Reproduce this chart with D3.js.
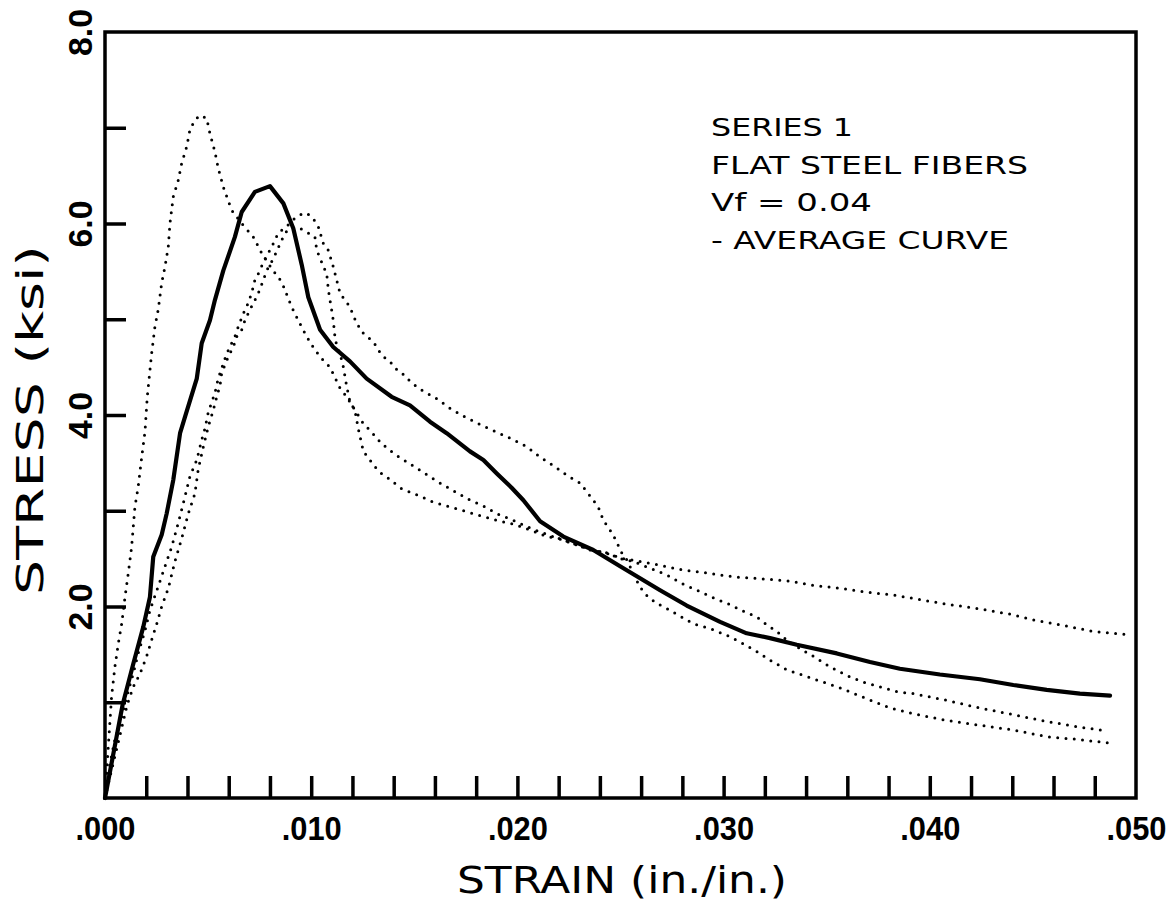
<!DOCTYPE html>
<html><head><meta charset="utf-8">
<script src="https://cdn.jsdelivr.net/npm/d3@7/dist/d3.min.js"></script>
<style>body{margin:0;background:#fff}svg{display:block}</style>
</head><body><svg id="chart" width="1175" height="905"></svg>
<script>
// ---------- data ----------
const xLabelValues = [0, 0.01, 0.02, 0.03, 0.04, 0.05];
const xTickLabels = [".000", ".010", ".020", ".030", ".040", ".050"];
const xMinorTicks = [0.002,0.004,0.006,0.008,0.010,0.012,0.014,0.016,0.018,0.020,0.022,0.024,0.026,0.028,0.030,0.032,0.034,0.036,0.038,0.040,0.042,0.044,0.046,0.048];
const yLabelValues = [2, 4, 6, 8];
const yTickLabels = ["2.0", "4.0", "6.0", "8.0"];
const yMinorTicks = [1, 2, 3, 4, 5, 6, 7];
const xTitle = "STRAIN (in./in.)";
const yTitle = "STRESS (ksi)";
const legendLines = ["SERIES 1", "FLAT STEEL FIBERS", "Vf = 0.04", "- AVERAGE CURVE"];

// average curve [strain, stress ksi]
const averageCurve = [[0,0],[0.00086,0.98],[0.00137,1.40],[0.00186,1.79],[0.00218,2.10],[0.00234,2.52],[0.00275,2.75],[0.00299,2.97],[0.00331,3.32],[0.00364,3.81],[0.00388,3.98],[0.00445,4.38],[0.00469,4.75],[0.00509,4.99],[0.00533,5.20],[0.00574,5.51],[0.0063,5.86],[0.00663,6.12],[0.00727,6.33],[0.008,6.39],[0.00865,6.21],[0.00913,5.95],[0.00954,5.57],[0.00986,5.23],[0.01043,4.89],[0.01107,4.71],[0.01188,4.56],[0.01269,4.38],[0.0139,4.19],[0.01479,4.10],[0.01576,3.93],[0.01657,3.81],[0.0177,3.62],[0.01835,3.53],[0.019,3.39],[0.01972,3.24],[0.02029,3.11],[0.0211,2.89],[0.02223,2.73],[0.02368,2.59],[0.02498,2.42],[0.02692,2.17],[0.02821,2.01],[0.02983,1.84],[0.03112,1.72],[0.03225,1.67],[0.03355,1.60],[0.03549,1.51],[0.0371,1.42],[0.03855,1.35],[0.04049,1.29],[0.04243,1.24],[0.04405,1.18],[0.04567,1.13],[0.04728,1.09],[0.04874,1.07]];

// specimen A (early peak)
const specimenA = [[0,0],[0.00016,0.54],[0.00032,1.06],[0.00048,1.37],[0.00065,1.62],[0.00081,1.82],[0.00097,2.10],[0.00113,2.35],[0.00129,2.62],[0.00145,3.04],[0.00161,3.25],[0.00178,3.56],[0.00194,3.83],[0.00205,4.19],[0.00226,4.64],[0.00242,4.92],[0.00258,5.10],[0.00275,5.38],[0.00291,5.55],[0.00307,5.76],[0.00315,6.00],[0.00331,6.28],[0.00355,6.45],[0.00372,6.63],[0.00396,6.80],[0.00412,6.98],[0.00436,7.08],[0.00461,7.13],[0.00493,7.10],[0.00509,6.94],[0.00533,6.75],[0.00549,6.58],[0.00574,6.38],[0.00614,6.14],[0.00663,6.00],[0.00719,5.86],[0.0076,5.69],[0.00808,5.53],[0.00857,5.39],[0.00905,5.13],[0.00937,4.99],[0.00978,4.82],[0.01018,4.68],[0.01059,4.57],[0.01091,4.50],[0.0114,4.28],[0.01172,4.19],[0.01253,3.91],[0.01285,3.84],[0.01342,3.70],[0.01406,3.59],[0.01471,3.50],[0.01544,3.40],[0.01616,3.30],[0.01689,3.21],[0.01762,3.12],[0.01835,3.05],[0.019,2.97],[0.0198,2.90],[0.02061,2.82],[0.02134,2.76],[0.02223,2.69],[0.0232,2.62],[0.02409,2.57],[0.02514,2.50],[0.02595,2.47],[0.02692,2.43],[0.02805,2.38],[0.02918,2.35],[0.03047,2.31],[0.03177,2.29],[0.03306,2.27],[0.03435,2.22],[0.03565,2.19],[0.03694,2.15],[0.03823,2.12],[0.03904,2.09],[0.04065,2.03],[0.04227,1.98],[0.04389,1.92],[0.04502,1.86],[0.04631,1.81],[0.04793,1.74],[0.04947,1.71]];

// specimen B (steep drop to lowest plateau)
const specimenB = [[0,0],[0.00034,0.31],[0.00073,0.66],[0.00107,0.97],[0.00137,1.16],[0.0017,1.30],[0.00202,1.48],[0.00226,1.65],[0.00251,1.82],[0.00275,2.00],[0.00307,2.19],[0.00339,2.47],[0.00372,2.71],[0.00404,2.97],[0.00436,3.18],[0.00452,3.43],[0.00477,3.67],[0.00501,3.88],[0.00525,4.05],[0.00542,4.19],[0.00558,4.31],[0.00566,4.44],[0.00598,4.61],[0.00622,4.71],[0.00639,4.82],[0.00663,4.89],[0.00679,4.99],[0.00703,5.10],[0.00727,5.20],[0.00743,5.27],[0.00768,5.41],[0.00784,5.51],[0.00808,5.60],[0.00833,5.71],[0.00849,5.79],[0.00873,5.90],[0.00897,5.95],[0.00946,5.95],[0.00978,5.91],[0.01018,5.86],[0.01027,5.72],[0.01043,5.64],[0.01059,5.55],[0.01075,5.48],[0.01083,5.31],[0.01091,5.20],[0.01099,5.10],[0.01107,4.99],[0.01115,4.82],[0.01123,4.73],[0.0114,4.64],[0.01156,4.50],[0.01172,4.30],[0.01188,4.14],[0.01212,4.05],[0.01228,3.86],[0.01253,3.62],[0.01285,3.53],[0.01309,3.46],[0.01334,3.40],[0.01374,3.34],[0.01439,3.23],[0.01519,3.16],[0.01592,3.09],[0.01673,3.04],[0.01754,2.99],[0.01835,2.94],[0.019,2.90],[0.0198,2.86],[0.02061,2.80],[0.02142,2.73],[0.02207,2.71],[0.02352,2.59],[0.02433,2.56],[0.02498,2.50],[0.02562,2.47],[0.02643,2.40],[0.02724,2.33],[0.02797,2.24],[0.0287,2.17],[0.0295,2.09],[0.03031,2.02],[0.03096,1.95],[0.03161,1.89],[0.03209,1.81],[0.03258,1.74],[0.03306,1.65],[0.0337,1.56],[0.03435,1.48],[0.03516,1.37],[0.03597,1.28],[0.03678,1.21],[0.03758,1.16],[0.0384,1.11],[0.0392,1.09],[0.04082,1.02],[0.04243,0.94],[0.04405,0.87],[0.04567,0.80],[0.04728,0.74],[0.04866,0.70]];

// specimen C (late hump)
const specimenC = [[0,0],[0.00024,0.36],[0.00048,0.61],[0.00073,0.78],[0.00105,1.06],[0.00137,1.30],[0.00161,1.51],[0.00194,1.75],[0.00218,1.96],[0.00258,2.21],[0.00291,2.42],[0.00323,2.62],[0.00355,2.87],[0.00388,3.15],[0.00412,3.36],[0.00445,3.53],[0.00469,3.74],[0.00485,3.86],[0.00501,4.03],[0.00533,4.23],[0.00549,4.38],[0.00574,4.54],[0.0059,4.64],[0.00614,4.75],[0.0063,4.82],[0.00646,4.92],[0.00671,5.06],[0.00687,5.13],[0.00711,5.27],[0.00727,5.41],[0.00752,5.51],[0.00768,5.60],[0.00792,5.69],[0.00816,5.79],[0.0084,5.90],[0.00857,5.93],[0.00881,5.97],[0.00913,6.04],[0.00946,6.09],[0.00978,6.11],[0.0101,6.05],[0.01034,5.97],[0.01059,5.79],[0.01083,5.72],[0.01107,5.55],[0.0114,5.27],[0.01164,5.20],[0.01188,5.13],[0.01204,5.04],[0.01221,4.96],[0.01245,4.87],[0.01269,4.82],[0.01301,4.77],[0.01325,4.68],[0.0135,4.61],[0.01382,4.56],[0.01406,4.49],[0.01439,4.44],[0.01471,4.37],[0.01503,4.31],[0.01536,4.26],[0.01576,4.21],[0.01609,4.17],[0.01641,4.12],[0.01673,4.07],[0.01713,4.02],[0.01746,3.98],[0.01819,3.90],[0.01891,3.83],[0.01972,3.75],[0.02045,3.67],[0.0211,3.56],[0.02182,3.46],[0.02247,3.36],[0.02304,3.29],[0.02368,3.11],[0.02392,3.04],[0.02417,2.90],[0.02449,2.80],[0.02473,2.71],[0.02506,2.56],[0.0253,2.49],[0.02586,2.24],[0.02611,2.15],[0.02635,2.10],[0.02676,2.03],[0.02708,2.00],[0.0278,1.91],[0.02853,1.82],[0.02934,1.77],[0.03015,1.70],[0.03079,1.63],[0.03161,1.53],[0.03225,1.44],[0.03306,1.34],[0.03387,1.28],[0.03484,1.21],[0.03565,1.15],[0.03645,1.08],[0.03726,1.01],[0.03807,0.94],[0.0392,0.88],[0.04082,0.81],[0.04243,0.76],[0.04405,0.71],[0.04567,0.64],[0.04728,0.61],[0.04884,0.57]];

const specimens = [specimenA, specimenB, specimenC];

// ---------- drawing ----------
const svg = d3.select("#chart");
const x = d3.scaleLinear().domain([0, 0.05]).range([105, 1136]);
const y = d3.scaleLinear().domain([0, 8]).range([798, 32]);

const labelFont = "'Liberation Sans', Arial, sans-serif";
const plotFont = "'DejaVu Sans', sans-serif";

// curves
const line = d3.line().x(d => x(d[0])).y(d => y(d[1])).curve(d3.curveLinear);
svg.append("g").selectAll("path").data(specimens).join("path")
  .attr("d", line).attr("fill", "none").attr("stroke", "#000")
  .attr("stroke-width", 3).attr("stroke-linecap", "round")
  .attr("stroke-dasharray", "0 8.3");
svg.append("path").datum(averageCurve).attr("d", line)
  .attr("fill", "none").attr("stroke", "#000").attr("stroke-width", 4.2)
  .attr("stroke-linejoin", "round").attr("stroke-linecap", "round");

// inward ticks
const gxt = svg.append("g").attr("transform", `translate(0,${y(0)})`)
  .call(d3.axisBottom(x).tickValues(xMinorTicks).tickSize(-22).tickFormat(""));
gxt.select(".domain").remove();
gxt.selectAll("line").attr("stroke", "#000").attr("stroke-width", 3.5);

const gyt = svg.append("g").attr("transform", `translate(${x(0)},0)`)
  .call(d3.axisLeft(y).tickValues(yMinorTicks).tickSize(-21).tickFormat(""));
gyt.select(".domain").remove();
gyt.selectAll("line").attr("stroke", "#000").attr("stroke-width", 3.5);

// frame
svg.append("rect").attr("x", x(0)).attr("y", y(8))
  .attr("width", x(0.05) - x(0)).attr("height", y(0) - y(8))
  .attr("fill", "none").attr("stroke", "#000").attr("stroke-width", 3.5);

// x labels
const gxl = svg.append("g").attr("transform", `translate(0,${y(0)})`)
  .call(d3.axisBottom(x).tickValues(xLabelValues).tickSize(0)
    .tickFormat((d, i) => xTickLabels[i]));
gxl.select(".domain").remove();
gxl.selectAll("text").attr("y", 42).attr("dy", null)
  .attr("font-family", labelFont).attr("font-weight", "bold").attr("font-size", 34)
  .attr("fill", "#000").attr("textLength", 60).attr("lengthAdjust", "spacingAndGlyphs");

// y labels
const gyl = svg.append("g").attr("transform", `translate(${x(0)},0)`)
  .call(d3.axisLeft(y).tickValues(yLabelValues).tickSize(0)
    .tickFormat((d, i) => yTickLabels[i]));
gyl.select(".domain").remove();
gyl.selectAll("text").attr("x", null).attr("dy", null)
  .attr("transform", "translate(-13,0) rotate(-90)").attr("text-anchor", "middle")
  .attr("font-family", labelFont).attr("font-weight", "bold").attr("font-size", 34)
  .attr("fill", "#000").attr("textLength", 47).attr("lengthAdjust", "spacingAndGlyphs");

// axis titles
svg.append("text").attr("x", 622).attr("y", 893).attr("text-anchor", "middle")
  .attr("font-family", plotFont).attr("font-size", 38).attr("fill", "#000")
  .attr("textLength", 330).attr("lengthAdjust", "spacingAndGlyphs").text(xTitle);
svg.append("text").attr("transform", "translate(43,420) rotate(-90)").attr("text-anchor", "middle")
  .attr("font-family", plotFont).attr("font-size", 38).attr("fill", "#000")
  .attr("textLength", 350).attr("lengthAdjust", "spacingAndGlyphs").text(yTitle);

// legend text
const legendLengths = [142, 317, 161, 298];
svg.append("g").selectAll("text").data(legendLines).join("text")
  .attr("x", 711).attr("y", (d, i) => 136 + i * 37.5)
  .attr("font-family", plotFont).attr("font-size", 25).attr("fill", "#000")
  .attr("textLength", (d, i) => legendLengths[i]).attr("lengthAdjust", "spacingAndGlyphs")
  .text(d => d);
</script></body></html>
